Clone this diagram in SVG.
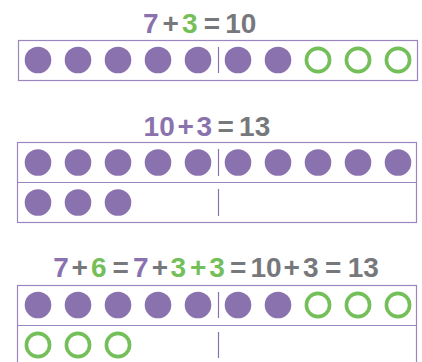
<svg xmlns="http://www.w3.org/2000/svg" width="422" height="362" viewBox="0 0 422 362">
<defs>
<style>
.t{font-family:"Liberation Sans",Arial,sans-serif;font-weight:bold;font-size:28px;text-anchor:middle}
.p{fill:#8a72ae}.g{fill:#74bf5a}.k{fill:#77787b}
.box{fill:#fff;stroke:#9a87c0;stroke-width:1.2}
.div{stroke:#8a72ae;stroke-width:1.2}
.f{fill:#8a72ae}
.o{fill:none;stroke:#74bf5a;stroke-width:3.6}
</style>
<circle id="F" r="13.3" class="f"/>
<circle id="O" r="11.6" class="o"/>
</defs>
<g id="eq1">
<text class="t" y="32.5"><tspan class="p" x="150.8">7</tspan><tspan class="k" x="170.8">+</tspan><tspan class="g" x="189.7">3</tspan><tspan class="k" x="212">=</tspan><tspan class="k" x="240.8">10</tspan></text>
</g>
<g id="frame1">
<rect class="box" x="18.5" y="40.5" width="399" height="40"/>
<line class="div" x1="218.5" y1="47" x2="218.5" y2="73"/>
<use href="#F" x="38" y="60"/><use href="#F" x="78" y="60"/><use href="#F" x="118" y="60"/><use href="#F" x="158" y="60"/><use href="#F" x="198" y="60"/>
<use href="#F" x="238" y="60"/><use href="#F" x="278" y="60"/>
<use href="#O" x="318" y="60"/><use href="#O" x="358" y="60"/><use href="#O" x="398" y="60"/>
</g>
<g id="eq2">
<text class="t" y="135.5"><tspan class="p" x="159.2">10</tspan><tspan class="p" x="185.8">+</tspan><tspan class="p" x="204.2">3</tspan><tspan class="k" x="225.8">=</tspan><tspan class="k" x="254.7">13</tspan></text>
</g>
<g id="frame2">
<rect class="box" x="17.5" y="142.5" width="399" height="80"/>
<line class="box" x1="17.5" y1="182.5" x2="416.5" y2="182.5"/>
<line class="div" x1="218.5" y1="149" x2="218.5" y2="176"/>
<line class="div" x1="218.5" y1="189" x2="218.5" y2="216"/>
<use href="#F" x="38" y="162.5"/><use href="#F" x="78" y="162.5"/><use href="#F" x="118" y="162.5"/><use href="#F" x="158" y="162.5"/><use href="#F" x="198" y="162.5"/>
<use href="#F" x="238" y="162.5"/><use href="#F" x="278" y="162.5"/><use href="#F" x="318" y="162.5"/><use href="#F" x="358" y="162.5"/><use href="#F" x="398" y="162.5"/>
<use href="#F" x="38" y="202.5"/><use href="#F" x="78" y="202.5"/><use href="#F" x="118" y="202.5"/>
</g>
<g id="eq3">
<text class="t" y="277"><tspan class="p" x="61">7</tspan><tspan class="k" x="79.7">+</tspan><tspan class="g" x="98.8">6</tspan><tspan class="k" x="120.8">=</tspan><tspan class="p" x="140.8">7</tspan><tspan class="k" x="160">+</tspan><tspan class="g" x="178.3">3</tspan><tspan class="g" x="198.3">+</tspan><tspan class="g" x="217">3</tspan><tspan class="k" x="238.2">=</tspan><tspan class="k" x="266">10</tspan><tspan class="k" x="291.7">+</tspan><tspan class="k" x="310.8">3</tspan><tspan class="k" x="333.3">=</tspan><tspan class="k" x="363.3">13</tspan></text>
</g>
<g id="frame3">
<rect class="box" x="17.5" y="285.5" width="399" height="80"/>
<line class="box" x1="17.5" y1="325.5" x2="416.5" y2="325.5"/>
<line class="div" x1="218.5" y1="292" x2="218.5" y2="318"/>
<line class="div" x1="218.5" y1="332" x2="218.5" y2="358"/>
<use href="#F" x="38" y="305"/><use href="#F" x="78" y="305"/><use href="#F" x="118" y="305"/><use href="#F" x="158" y="305"/><use href="#F" x="198" y="305"/>
<use href="#F" x="238" y="305"/><use href="#F" x="278" y="305"/>
<use href="#O" x="318" y="305"/><use href="#O" x="358" y="305"/><use href="#O" x="398" y="305"/>
<use href="#O" x="38" y="345"/><use href="#O" x="78" y="345"/><use href="#O" x="118" y="345"/>
</g>
</svg>
